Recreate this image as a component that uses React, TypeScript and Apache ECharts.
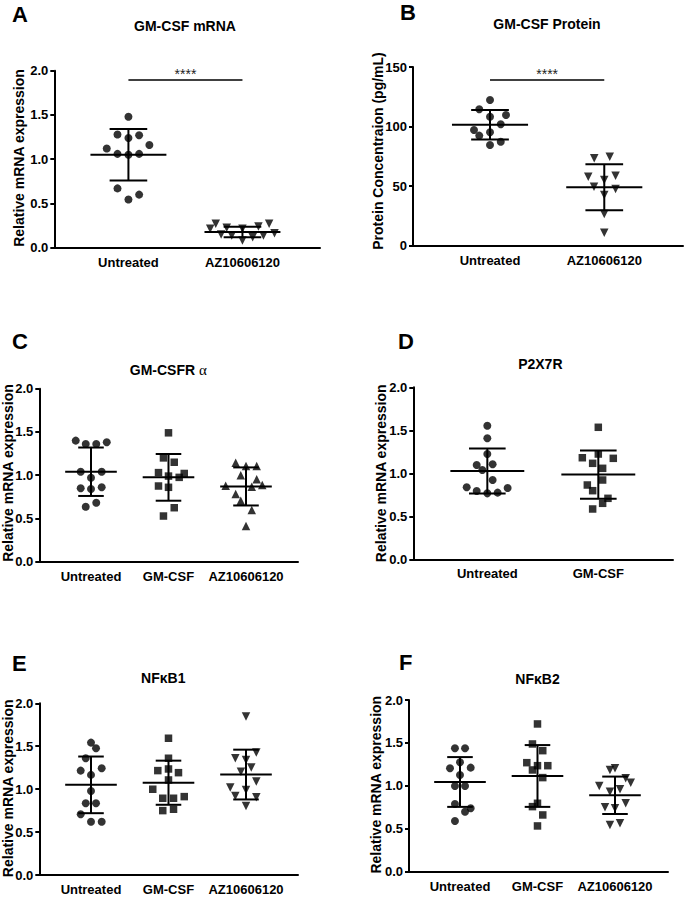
import React, { useEffect, useRef } from "react";
import * as echarts from "echarts";

// ---------------- Data ----------------
const catsA = ["Untreated", "AZ10606120"];
const catsB = ["Untreated", "AZ10606120"];
const catsC = ["Untreated", "GM-CSF", "AZ10606120"];
const catsD = ["Untreated", "GM-CSF"];
const catsE = ["Untreated", "GM-CSF", "AZ10606120"];
const catsF = ["Untreated", "GM-CSF", "AZ10606120"];

const mrnaTicks = [0, 0.5, 1.0, 1.5, 2.0];
const proteinTicks = [0, 50, 100, 150];

// Panel A – GM-CSF mRNA
const aUntreated = [1.48, 1.28, 1.24, 1.27, 1.12, 1.16, 1.06, 1.05, 1.06, 0.67, 0.6, 0.545];
const aUntreatedJit = [0, -0.096, 0, 0.094, -0.19, 0.184, -0.096, 0, 0.094, -0.096, 0.094, 0];
const aAZ = [0.27, 0.27, 0.213, 0.225, 0.213, 0.24, 0.164, 0.149, 0.138, 0.119, 0.138, 0.081];
const aAZJit = [-0.234, 0.234, -0.283, -0.138, 0, 0.14, 0.281, -0.187, -0.094, 0.09, 0.184, 0];
const aMeans = [1.05, 0.178];
const aSDs = [0.29, 0.06];
const aSig = [0, 1, 1.895];

// Panel B – GM-CSF Protein
const bUntreated = [122.3, 114.5, 108.3, 109.7, 101.9, 97.1, 95.2, 92.4, 87.3, 84.5];
const bUntreatedJit = [0, -0.094, 0, 0.14, 0.094, -0.14, 0, -0.094, 0.094, 0];
const bAZ = [73.4, 74.7, 57.9, 58.8, 55.2, 49.5, 47.6, 42.6, 26.6, 10.9];
const bAZJit = [-0.088, 0.048, -0.14, 0.099, 0, -0.09, 0.099, 0, 0, 0];
const bMeans = [101.5, 49.0];
const bSDs = [12.4, 19.3];
const bSig = [0, 1, 139];

// Panel C – GM-CSFR alpha
const cUntreated = [1.4, 1.36, 1.36, 1.38, 1.04, 1.04, 0.97, 0.85, 0.84, 0.86, 0.636, 0.682];
const cUntreatedJit = [-0.197, -0.068, 0.068, 0.203, -0.133, 0.138, 0, -0.133, 0, 0.138, -0.068, 0.068];
const cGM = [1.49, 1.2, 1.15, 1.03, 0.99, 1.02, 0.975, 0.875, 0.86, 0.624, 0.528];
const cGMJit = [0, -0.065, 0.074, -0.129, 0, 0.203, 0.138, -0.129, 0, 0.074, -0.065];
const cAZ = [1.145, 1.106, 1.106, 1.0, 0.952, 0.879, 0.867, 0.887, 0.783, 0.705, 0.598, 0.413];
const cAZJit = [-0.133, 0, 0.138, -0.068, 0.138, -0.262, 0.074, 0.21, -0.133, -0.068, 0.074, 0];
const cMeans = [1.04, 0.975, 0.87];
const cSDs = [0.28, 0.27, 0.22];

// Panel D – P2X7R
const dUntreated = [1.553, 1.407, 1.224, 1.097, 1.105, 1.038, 0.922, 0.837, 0.829, 0.794, 0.767, 0.775];
const dUntreatedJit = [0, 0, 0, -0.096, 0.048, -0.045, 0.048, -0.186, 0.183, -0.096, 0, 0.093];
const dGM = [1.535, 1.224, 1.181, 1.174, 1.116, 1.058, 0.922, 0.864, 0.798, 0.709, 0.651, 0.585];
const dGMJit = [0, 0, -0.144, 0.135, -0.051, 0.039, 0.039, -0.099, -0.051, 0.087, 0.039, -0.051];
const dMeans = [1.027, 0.985];
const dSDs = [0.262, 0.28];

// Panel E – NFkB1
const eUntreated = [1.542, 1.477, 1.36, 1.216, 1.243, 1.166, 0.979, 0.836, 0.836, 0.707, 0.621, 0.621];
const eUntreatedJit = [0, 0.065, -0.068, -0.133, 0.138, 0, 0, -0.068, 0.065, -0.133, 0, 0.138];
const eGM = [1.593, 1.36, 1.216, 1.235, 1.192, 1.107, 0.999, 0.894, 0.894, 0.913, 0.75, 0.766];
const eGMJit = [0, 0, -0.138, 0, 0.129, 0, -0.203, -0.074, 0.065, 0.203, -0.074, 0.065];
const eAZ = [1.845, 1.36, 1.426, 1.34, 1.204, 1.251, 1.088, 1.018, 0.991, 0.921, 0.906, 0.804];
const eAZJit = [0, -0.138, 0.133, 0, -0.065, 0.068, 0.133, -0.203, 0, -0.138, 0.133, 0];
const eMeans = [1.05, 1.075, 1.17];
const eSDs = [0.33, 0.257, 0.29];

// Panel F – NFkB2
const fUntreated = [1.438, 1.438, 1.275, 1.205, 1.212, 1.127, 0.999, 0.999, 0.789, 0.739, 0.699, 0.591];
const fUntreatedJit = [-0.065, 0.065, 0, -0.129, 0.138, 0, -0.065, 0.065, -0.065, 0.138, 0.065, -0.065];
const fGM = [1.721, 1.488, 1.41, 1.27, 1.235, 1.235, 1.185, 1.096, 0.797, 0.758, 0.661, 0.533];
const fGMJit = [0, -0.065, 0.068, -0.138, 0, 0.133, -0.065, 0.068, 0, -0.065, 0.068, 0];
const fAZ = [1.185, 1.205, 1.089, 1.037, 0.999, 0.932, 0.96, 0.797, 0.751, 0.739, 0.544, 0.564];
const fAZJit = [-0.065, 0, 0.138, 0.203, -0.203, -0.065, 0.065, 0.138, -0.129, 0, -0.065, 0.065];
const fMeans = [1.045, 1.115, 0.89];
const fSDs = [0.29, 0.36, 0.218];

// ---------------- Layout ----------------
const FONT = "'Liberation Sans', Arial, Helvetica, sans-serif";

type Group = { vals: number[]; jit: number[]; symbol: string; rotate: number; size: number };
type Panel = {
  letter: string;
  letterPos: [number, number];
  title: string;
  titlePos: [number, number];
  yName: string;
  yNamePos: [number, number];
  grid: { left: number; top: number; width: number; height: number };
  xMin: number;
  xMax: number;
  cats: string[];
  ticks: number[];
  decimals: number;
  groups: Group[];
  means: number[];
  sds: number[];
  sig?: number[];
};

const circ = (vals: number[], jit: number[]): Group => ({ vals, jit, symbol: "circle", rotate: 0, size: 8 });
const sq = (vals: number[], jit: number[]): Group => ({ vals, jit, symbol: "rect", rotate: 0, size: 7.5 });
const triDown = (vals: number[], jit: number[]): Group => ({ vals, jit, symbol: "triangle", rotate: 180, size: 8.5 });
const triUp = (vals: number[], jit: number[]): Group => ({ vals, jit, symbol: "triangle", rotate: 0, size: 8.5 });

const panels: Panel[] = [
  {
    letter: "A", letterPos: [12, 14], title: "GM-CSF mRNA", titlePos: [185, 26],
    yName: "Relative mRNA expression", yNamePos: [18.5, 158],
    grid: { left: 54.3, top: 70.7, width: 265.7, height: 177 }, xMin: -0.65, xMax: 1.68,
    cats: catsA, ticks: mrnaTicks, decimals: 1,
    groups: [circ(aUntreated, aUntreatedJit), triDown(aAZ, aAZJit)],
    means: aMeans, sds: aSDs, sig: aSig,
  },
  {
    letter: "B", letterPos: [400, 12.5], title: "GM-CSF Protein", titlePos: [547, 24],
    yName: "Protein Concentraion (pg/mL)", yNamePos: [377.5, 151],
    grid: { left: 413, top: 67, width: 270, height: 178.7 }, xMin: -0.674, xMax: 1.689,
    cats: catsB, ticks: proteinTicks, decimals: 0,
    groups: [circ(bUntreated, bUntreatedJit), triDown(bAZ, bAZJit)],
    means: bMeans, sds: bSDs, sig: bSig,
  },
  {
    letter: "C", letterPos: [12, 341.3], title: "GM-CSFR {g|α}", titlePos: [168.3, 370],
    yName: "Relative mRNA expression", yNamePos: [8, 473],
    grid: { left: 39.3, top: 388.7, width: 258.7, height: 173 }, xMin: -0.667, xMax: 2.671,
    cats: catsC, ticks: mrnaTicks, decimals: 1,
    groups: [circ(cUntreated, cUntreatedJit), sq(cGM, cGMJit), triUp(cAZ, cAZJit)],
    means: cMeans, sds: cSDs,
  },
  {
    letter: "D", letterPos: [398, 341], title: "P2X7R", titlePos: [540.3, 364],
    yName: "Relative mRNA expression", yNamePos: [381.3, 473.3],
    grid: { left: 413.3, top: 387.3, width: 259.7, height: 172 }, xMin: -0.667, xMax: 1.673,
    cats: catsD, ticks: mrnaTicks, decimals: 1,
    groups: [circ(dUntreated, dUntreatedJit), sq(dGM, dGMJit)],
    means: dMeans, sds: dSDs,
  },
  {
    letter: "E", letterPos: [12, 663.3], title: "NFκB1", titlePos: [163.3, 678.3],
    yName: "Relative mRNA expression", yNamePos: [8, 788.3],
    grid: { left: 39.3, top: 703.3, width: 258.7, height: 171.7 }, xMin: -0.667, xMax: 2.671,
    cats: catsE, ticks: mrnaTicks, decimals: 1,
    groups: [circ(eUntreated, eUntreatedJit), sq(eGM, eGMJit), triDown(eAZ, eAZJit)],
    means: eMeans, sds: eSDs,
  },
  {
    letter: "F", letterPos: [399, 662.5], title: "NFκB2", titlePos: [537.5, 679.3],
    yName: "Relative mRNA expression", yNamePos: [376.3, 784.7],
    grid: { left: 409, top: 700, width: 259, height: 171.7 }, xMin: -0.658, xMax: 2.684,
    cats: catsF, ticks: mrnaTicks, decimals: 1,
    groups: [circ(fUntreated, fUntreatedJit), sq(fGM, fGMJit), triDown(fAZ, fAZJit)],
    means: fMeans, sds: fSDs,
  },
];

const MEAN_HALF = 0.333;
const CAP_HALF = 0.165;

function buildOption() {
  const grid: any[] = [];
  const xAxis: any[] = [];
  const yAxis: any[] = [];
  const series: any[] = [];
  const graphic: any[] = [];

  panels.forEach((p, gi) => {
    grid.push({ ...p.grid, containLabel: false });
    const cats = p.cats;
    xAxis.push({
      gridIndex: gi,
      type: "value",
      min: p.xMin,
      max: p.xMax,
      axisLine: { show: true, onZero: false, lineStyle: { color: "#000", width: 2 } },
      axisTick: { show: false },
      splitLine: { show: false },
      axisLabel: {
        customValues: cats.map((_, i) => i),
        formatter: (v: number) => cats[Math.round(v)] ?? "",
        color: "#000",
        fontWeight: "bold",
        fontSize: 13,
        fontFamily: FONT,
        margin: 8,
      },
    });
    const t = p.ticks;
    yAxis.push({
      gridIndex: gi,
      type: "value",
      min: t[0],
      max: t[t.length - 1],
      interval: t[1] - t[0],
      axisLine: { show: true, onZero: false, lineStyle: { color: "#000", width: 2 } },
      axisTick: { show: true, length: 4, lineStyle: { color: "#000", width: 2 } },
      splitLine: { show: false },
      axisLabel: {
        formatter: (v: number) => v.toFixed(p.decimals),
        color: "#000",
        fontWeight: "bold",
        fontSize: 13,
        fontFamily: FONT,
        margin: 6,
      },
    });

    p.groups.forEach((g, ci) => {
      series.push({
        type: "scatter",
        xAxisIndex: gi,
        yAxisIndex: gi,
        symbol: g.symbol,
        symbolRotate: g.rotate,
        symbolSize: g.size,
        itemStyle: { color: "#000" },
        silent: true,
        z: 3,
        data: g.vals.map((v, i) => [ci + g.jit[i], v]),
      });
    });

    series.push({
      type: "custom",
      xAxisIndex: gi,
      yAxisIndex: gi,
      silent: true,
      z: 4,
      encode: { x: 0, y: 1 },
      data: p.means.map((m, i) => [i, m, p.sds[i]]),
      renderItem: (_params: any, api: any) => {
        const c = api.value(0);
        const m = api.value(1);
        const s = api.value(2);
        const seg = (x1: number, y1: number, x2: number, y2: number) => {
          const a = api.coord([x1, y1]);
          const b = api.coord([x2, y2]);
          return {
            type: "line",
            shape: { x1: a[0], y1: a[1], x2: b[0], y2: b[1] },
            style: { stroke: "#000", lineWidth: 2 },
          };
        };
        return {
          type: "group",
          children: [
            seg(c - MEAN_HALF, m, c + MEAN_HALF, m),
            seg(c, m - s, c, m + s),
            seg(c - CAP_HALF, m + s, c + CAP_HALF, m + s),
            seg(c - CAP_HALF, m - s, c + CAP_HALF, m - s),
          ],
        };
      },
    });

    if (p.sig) {
      series.push({
        type: "custom",
        xAxisIndex: gi,
        yAxisIndex: gi,
        silent: true,
        z: 4,
        encode: { x: [0, 1], y: 2 },
        data: [p.sig],
        renderItem: (_params: any, api: any) => {
          const a = api.coord([api.value(0), api.value(2)]);
          const b = api.coord([api.value(1), api.value(2)]);
          return {
            type: "group",
            children: [
              {
                type: "line",
                shape: { x1: a[0], y1: a[1], x2: b[0], y2: b[1] },
                style: { stroke: "#000", lineWidth: 1.5 },
              },
              {
                type: "text",
                x: (a[0] + b[0]) / 2,
                y: a[1] - 6,
                style: {
                  text: "****",
                  fill: "#222",
                  fontSize: 14,
                  fontFamily: FONT,
                  align: "center",
                  verticalAlign: "middle",
                  textAlign: "center",
                  textVerticalAlign: "middle",
                },
              },
            ],
          };
        },
      });
    }

    graphic.push({
      type: "text",
      x: p.letterPos[0],
      y: p.letterPos[1],
      style: {
        text: p.letter,
        fill: "#000",
        fontSize: 22,
        fontWeight: "bold",
        fontFamily: FONT,
        align: "left",
        verticalAlign: "middle",
        textAlign: "left",
        textVerticalAlign: "middle",
      },
    });
    graphic.push({
      type: "text",
      x: p.titlePos[0],
      y: p.titlePos[1],
      style: {
        text: p.title,
        fill: "#000",
        fontSize: 14,
        fontWeight: "bold",
        fontFamily: FONT,
        align: "center",
        verticalAlign: "middle",
        textAlign: "center",
        textVerticalAlign: "middle",
        rich: {
          g: { fontSize: 15, fontWeight: "normal", fontFamily: "'Liberation Serif', 'DejaVu Serif', serif", fill: "#000" },
        },
      },
    });
    graphic.push({
      type: "text",
      x: p.yNamePos[0],
      y: p.yNamePos[1],
      rotation: Math.PI / 2,
      style: {
        text: p.yName,
        fill: "#000",
        fontSize: 14,
        fontWeight: "bold",
        fontFamily: FONT,
        align: "center",
        verticalAlign: "middle",
        textAlign: "center",
        textVerticalAlign: "middle",
      },
    });
  });

  return {
    animation: false,
    backgroundColor: "#fff",
    grid,
    xAxis,
    yAxis,
    series,
    graphic,
  };
}

export default function App() {
  const ref = useRef<HTMLDivElement>(null);
  useEffect(() => {
    document.body.style.margin = "0";
    if (!ref.current) return;
    const chart = echarts.init(ref.current, undefined, { renderer: "svg" });
    chart.setOption(buildOption() as any);
    return () => chart.dispose();
  }, []);
  return (
    <div
      ref={ref}
      style={{ position: "absolute", left: 0, top: 0, width: 685, height: 897, background: "#fff" }}
    />
  );
}
